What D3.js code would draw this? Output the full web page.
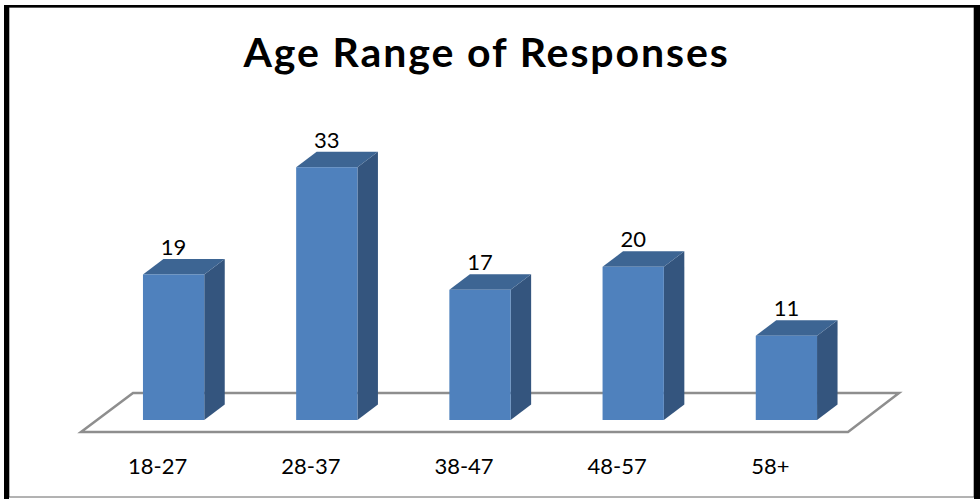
<!DOCTYPE html>
<html>
<head>
<meta charset="utf-8">
<script src="https://cdn.jsdelivr.net/npm/d3@7"></script>
<style>
  html, body { margin: 0; padding: 0; background: #fff; }
  svg { display: block; }
  text { font-family: Lato, "Open Sans", sans-serif; }
</style>
</head>
<body>
<svg id="chart" width="980" height="499"></svg>
<script>
// Survey responses per age group
const categories = ["18-27", "28-37", "38-47", "48-57", "58+"];
const counts = [19, 33, 17, 20, 11];
const chartTitle = "Age Range of Responses";

const W = 980, H = 499;
const svg = d3.select("#chart");

// Frame around the chart area
svg.append("rect").attr("x", 9).attr("y", 7).attr("width", 965).attr("height", 490)
  .attr("fill", "#fff").attr("stroke", "#666").attr("stroke-width", 1);
svg.append("rect").attr("x", 4).attr("y", 5).attr("width", 5).attr("height", 494).attr("fill", "#000");
svg.append("rect").attr("x", 4).attr("y", 5).attr("width", 976).attr("height", 2.5).attr("fill", "#000");
svg.append("rect").attr("x", 974).attr("y", 5).attr("width", 6).attr("height", 494).attr("fill", "#000");

// Title
svg.append("text")
  .attr("x", 486.5).attr("y", 67)
  .attr("text-anchor", "middle")
  .attr("font-size", 41).attr("font-weight", 700)
  .attr("letter-spacing", 1.9)
  .attr("fill", "#000")
  .text(chartTitle);

// Scales
const x = d3.scaleBand().domain(categories).range([97, 863]);
const y = d3.scaleLinear().domain([0, 35]).range([420, 151.9]);
const barW = x.bandwidth() * 0.4;
const depthX = 20.5, depthY = 15.5;

// Floor of the 3D plot
const floorBack = 393, floorFront = 432;
svg.append("path")
  .attr("d", `M133,${floorBack} L899,${floorBack} L848,${floorFront} L81,${floorFront} Z`)
  .attr("fill", "none").attr("stroke", "#8e8e8e").attr("stroke-width", 2.5)
  .attr("stroke-linejoin", "miter");

// Bars: front, top and side faces
const bars = svg.append("g").selectAll("g")
  .data(categories.map((c, i) => ({ c, v: counts[i] })))
  .join("g");

bars.each(function(d) {
  const g = d3.select(this);
  const cx = x(d.c) + x.bandwidth() / 2;
  const x0 = cx - barW / 2, x1 = cx + barW / 2;
  const yt = y(d.v), yb = y(0);
  // side face
  g.append("path")
    .attr("d", `M${x1},${yt} L${x1 + depthX},${yt - depthY} L${x1 + depthX},${yb - depthY} L${x1},${yb} Z`)
    .attr("fill", "#34557e");
  // top face
  g.append("path")
    .attr("d", `M${x0},${yt} L${x0 + depthX},${yt - depthY} L${x1 + depthX},${yt - depthY} L${x1},${yt} Z`)
    .attr("fill", "#3d6593");
  // front face
  g.append("rect")
    .attr("x", x0).attr("y", yt).attr("width", barW).attr("height", yb - yt)
    .attr("fill", "#4f81bd");
  // value label
  g.append("text")
    .attr("x", cx).attr("y", yt - depthY - 4)
    .attr("text-anchor", "middle").attr("font-size", 22).attr("fill", "#000")
    .text(d.v);
});

// Category labels along the front of the floor
svg.append("g").selectAll("text")
  .data(categories)
  .join("text")
  .attr("x", d => x(d) + x.bandwidth() / 2 - 16)
  .attr("y", 474)
  .attr("text-anchor", "middle").attr("font-size", 22).attr("fill", "#000")
  .text(d => d);
</script>
</body>
</html>
